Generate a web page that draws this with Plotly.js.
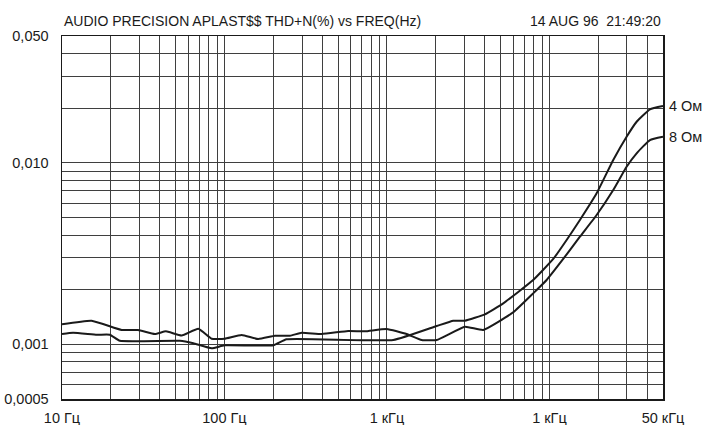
<!DOCTYPE html>
<html>
<head>
<meta charset="utf-8">
<script src="https://cdn.plot.ly/plotly-3.0.1.min.js"></script>
<style>
  html, body { margin: 0; padding: 0; background: #fff; }
  #chart { width: 705px; height: 425px; }
</style>
</head>
<body>
<div id="chart"></div>
<script>
// Frequency (Hz) and THD+N (%) values
const freq4 = [10, 11.7, 16.4, 19.7, 22.7, 53.2, 64.3, 83.4, 100, 200, 241, 1093, 2022, 2559, 3020, 4009, 5196, 7943, 10555, 12760, 15403, 19521, 24700, 29850, 34410, 41550, 50000];
const thd4  = [0.00114, 0.00116, 0.00113, 0.00113, 0.001047, 0.001047, 0.001014, 0.000951, 0.000988, 0.000988, 0.001066, 0.001057, 0.001262, 0.00135, 0.00135, 0.001464, 0.001683, 0.002262, 0.002954, 0.003758, 0.004843, 0.006796, 0.01037, 0.01393, 0.01685, 0.01973, 0.02057];

const freq8 = [10, 15.2, 23.3, 29.4, 37.3, 43.6, 54.5, 69, 83.4, 100, 127.6, 161.4, 204.6, 253, 298.5, 396, 578, 732, 995, 1322, 1635, 2022, 3020, 3914, 5986, 7943, 9612, 12158, 15403, 19521, 24700, 29850, 34410, 41550, 50000];
const thd8  = [0.00129, 0.00135, 0.0012, 0.0012, 0.00114, 0.00118, 0.00112, 0.00122, 0.001074, 0.001074, 0.001126, 0.00107, 0.001116, 0.001116, 0.001159, 0.00114, 0.001185, 0.00118, 0.001215, 0.00114, 0.001057, 0.001057, 0.001251, 0.0012, 0.001502, 0.00191, 0.002262, 0.002954, 0.003918, 0.005162, 0.00709, 0.00952, 0.01129, 0.01336, 0.01393];

const seriesNames = ["4 Ом", "8 Ом"];

const xTickVals = [10, 100, 1000, 10000, 50000];
const xTickText = ["10 Гц", "100 Гц", "1 кГц", "1 кГц", "50 кГц"];
const xMinorVals = [20,30,40,50,60,70,80,90,200,300,400,500,600,700,800,900,2000,3000,4000,5000,6000,7000,8000,9000,20000,30000,40000];

const yTickVals = [0.0005, 0.001, 0.01, 0.05];
const yTickText = ["0,0005", "0,001", "0,010", "0,050"];
const yMinorVals = [0.0006,0.0007,0.0008,0.0009,0.002,0.003,0.004,0.005,0.006,0.007,0.008,0.009,0.02,0.03,0.04];

const titleText = "AUDIO PRECISION APLAST$$ THD+N(%) vs FREQ(Hz)";
const stampText = "14 AUG 96  21:49:20";

const FONT = "Liberation Sans, Arial, sans-serif";
const gridCol = "#3f3f3f";

const traces = [
  {x: freq4, y: thd4, type: "scatter", mode: "lines", name: seriesNames[0],
   line: {color: "#1a1a1a", width: 2, shape: "spline", smoothing: 0.4}},
  {x: freq8, y: thd8, type: "scatter", mode: "lines", name: seriesNames[1],
   line: {color: "#1a1a1a", width: 2, shape: "spline", smoothing: 0.4}}
];

const layout = {
  width: 705, height: 425,
  margin: {l: 62, r: 42, t: 36, b: 26},
  paper_bgcolor: "#fff", plot_bgcolor: "#fff",
  showlegend: false,
  font: {family: FONT, size: 14.5, color: "#1a1a1a"},
  xaxis: {
    type: "log", range: [1, Math.log10(50000)],
    tickmode: "array", tickvals: xTickVals, ticktext: xTickText,
    ticks: "", showgrid: true, gridcolor: gridCol, gridwidth: 1,
    minor: {tickmode: "array", tickvals: xMinorVals, showgrid: true, gridcolor: gridCol, gridwidth: 1, ticks: ""},
    showline: true, linecolor: "#1a1a1a", linewidth: 1.5, mirror: true,
    zeroline: false, tickfont: {size: 14.5}, ticklabelstandoff: 5
  },
  yaxis: {
    type: "log", range: [Math.log10(0.0005), Math.log10(0.05)],
    tickmode: "array", tickvals: yTickVals, ticktext: yTickText,
    ticks: "", showgrid: true, gridcolor: gridCol, gridwidth: 1,
    minor: {tickmode: "array", tickvals: yMinorVals, showgrid: true, gridcolor: gridCol, gridwidth: 1, ticks: ""},
    showline: true, linecolor: "#1a1a1a", linewidth: 1.5, mirror: true,
    zeroline: false, tickfont: {size: 14.5}, ticklabelstandoff: 9
  },
  annotations: [
    {text: titleText, xref: "paper", yref: "paper", x: 0, y: 1, xanchor: "left", yanchor: "bottom",
     yshift: 5, showarrow: false, font: {size: 14}},
    {text: stampText, xref: "paper", yref: "paper", x: 1, y: 1, xanchor: "right", yanchor: "bottom",
     yshift: 5, showarrow: false, font: {size: 14}},
    {text: seriesNames[0], xref: "paper", yref: "y", x: 1, y: Math.log10(thd4[thd4.length - 1]),
     xanchor: "left", yanchor: "middle", xshift: 4, showarrow: false, font: {size: 14.5}},
    {text: seriesNames[1], xref: "paper", yref: "y", x: 1, y: Math.log10(thd8[thd8.length - 1]),
     xanchor: "left", yanchor: "middle", xshift: 4, showarrow: false, font: {size: 14.5}}
  ]
};

Plotly.newPlot("chart", traces, layout, {displayModeBar: false, staticPlot: true});
</script>
</body>
</html>
